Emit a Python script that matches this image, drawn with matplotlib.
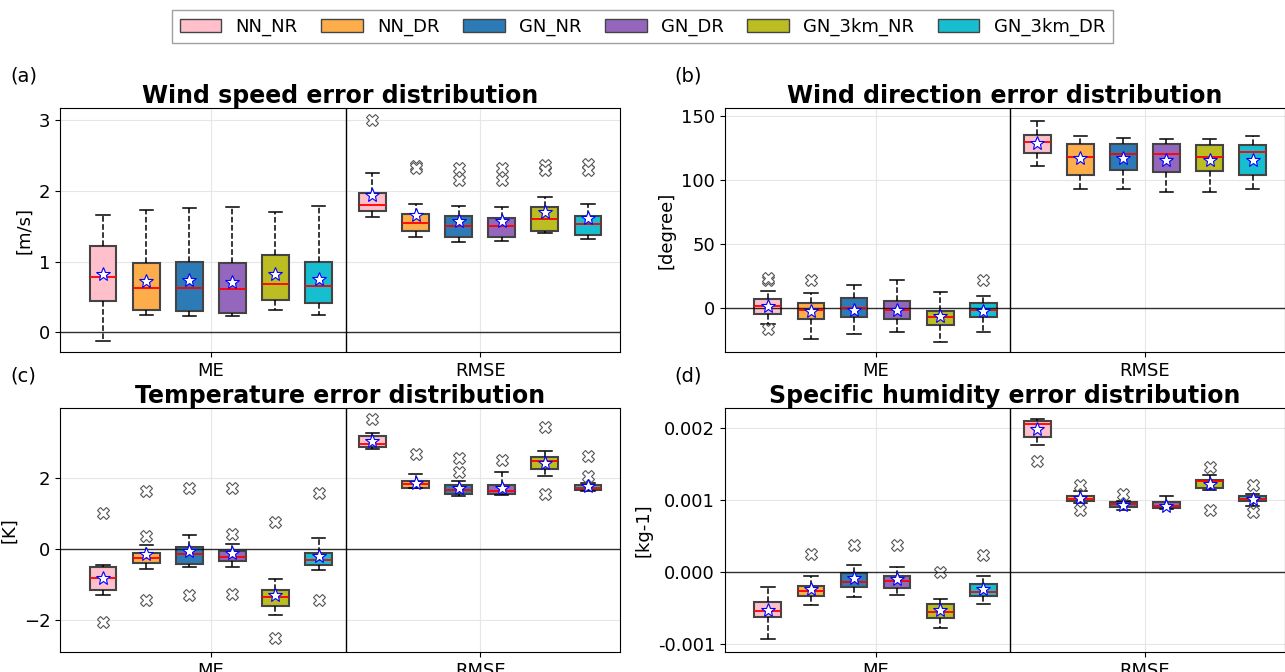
import matplotlib
matplotlib.use("Agg")
import matplotlib.pyplot as plt
from matplotlib.patches import Patch

labels = ["NN_NR", "NN_DR", "GN_NR", "GN_DR", "GN_3km_NR", "GN_3km_DR"]
colors = ["#ffc0cb", "#fdae4b", "#2c7bb6", "#9467bd", "#bcbd22", "#17becf"]

# stats per box: (whislo, q1, med, q3, whishi, mean, fliers)
ws_me = [(-0.12, 0.45, 0.78, 1.22, 1.66, 0.82, []),
         (0.24, 0.31, 0.62, 0.98, 1.73, 0.72, []),
         (0.23, 0.30, 0.62, 1.00, 1.76, 0.74, []),
         (0.23, 0.27, 0.61, 0.98, 1.77, 0.71, []),
         (0.32, 0.46, 0.69, 1.10, 1.70, 0.82, []),
         (0.24, 0.42, 0.65, 1.00, 1.78, 0.75, [])]
ws_rmse = [(1.63, 1.72, 1.80, 1.97, 2.26, 1.94, [3.0]),
           (1.35, 1.43, 1.55, 1.67, 1.82, 1.66, [2.35, 2.33]),
           (1.28, 1.35, 1.50, 1.64, 1.78, 1.58, [2.33, 2.16]),
           (1.29, 1.35, 1.50, 1.61, 1.77, 1.58, [2.33, 2.16]),
           (1.41, 1.44, 1.60, 1.77, 1.91, 1.70, [2.36, 2.30]),
           (1.32, 1.37, 1.53, 1.65, 1.81, 1.62, [2.38, 2.30])]
wd_me = [(-12, -4, 2, 7, 14, 2, [22, 24, -16]),
         (-24, -8, -1, 4, 12, -2, [22]),
         (-20, -7, 0, 8, 18, -1, []),
         (-18, -8, -1, 6, 22, -1, []),
         (-26, -13, -7, -2, 13, -6, []),
         (-18, -7, -1, 4, 10, -2, [22])]
wd_rmse = [(111, 121, 130, 135, 146, 129, []),
           (93, 104, 118, 128, 134, 117, []),
           (93, 108, 120, 128, 133, 117, []),
           (91, 106, 120, 128, 132, 116, []),
           (91, 107, 118, 127, 132, 116, []),
           (93, 104, 122, 127, 134, 116, [])]
t_me = [(-1.30, -1.15, -0.80, -0.50, -0.45, -0.80, [1.0, -2.05]),
        (-0.55, -0.38, -0.25, -0.10, 0.10, -0.15, [1.62, 0.35, -1.42]),
        (-0.50, -0.42, -0.15, 0.05, 0.40, -0.05, [1.72, -1.28]),
        (-0.50, -0.35, -0.22, -0.05, 0.15, -0.10, [1.72, 0.42, -1.25]),
        (-1.85, -1.60, -1.35, -1.15, -0.85, -1.30, [0.75, -2.50]),
        (-0.60, -0.45, -0.30, -0.10, 0.30, -0.20, [1.58, -1.42])]
t_rmse = [(2.80, 2.85, 2.95, 3.15, 3.25, 3.02, [3.65]),
          (1.70, 1.72, 1.82, 1.90, 2.10, 1.85, [2.65]),
          (1.48, 1.55, 1.65, 1.78, 1.90, 1.72, [2.55, 2.15]),
          (1.50, 1.55, 1.62, 1.78, 2.15, 1.72, [2.50]),
          (2.05, 2.25, 2.45, 2.58, 2.75, 2.40, [3.42, 1.55]),
          (1.62, 1.65, 1.72, 1.80, 1.85, 1.76, [2.60, 2.05])]
q_me = [(-0.00093, -0.00063, -0.00054, -0.00042, -0.00021, -0.00053, []),
        (-0.00046, -0.00034, -0.00026, -0.00020, -0.00006, -0.00023, [0.00025]),
        (-0.00035, -0.00021, -0.00014, -0.00002, 0.00010, -0.00008, [0.00038]),
        (-0.00032, -0.00022, -0.00012, -0.00006, 0.00007, -0.00010, [0.00038]),
        (-0.00078, -0.00064, -0.00056, -0.00044, -0.00038, -0.00053, [0.0]),
        (-0.00045, -0.00034, -0.00028, -0.00017, -0.00006, -0.00023, [0.00024])]
q_rmse = [(0.00176, 0.00188, 0.00206, 0.00210, 0.00213, 0.00198, [0.00154]),
          (0.00096, 0.00099, 0.00102, 0.00106, 0.00113, 0.00103, [0.00121, 0.00086]),
          (0.00086, 0.00090, 0.00094, 0.00097, 0.00099, 0.00093, [0.00108]),
          (0.00088, 0.00089, 0.00092, 0.00097, 0.00105, 0.00092, []),
          (0.00114, 0.00117, 0.00126, 0.00128, 0.00135, 0.00122, [0.00146, 0.00086]),
          (0.00091, 0.00099, 0.00102, 0.00105, 0.00109, 0.00102, [0.00121, 0.00083])]

panels = [
    ("(a)", "Wind speed error distribution", "[m/s]", ws_me, ws_rmse, (-0.28, 3.17), [0, 1, 2, 3]),
    ("(b)", "Wind direction error distribution", "[degree]", wd_me, wd_rmse, (-34, 156), [0, 50, 100, 150]),
    ("(c)", "Temperature error distribution", "[K]", t_me, t_rmse, (-2.88, 3.95), [-2, 0, 2]),
    ("(d)", "Specific humidity error distribution", "[kg-1]", q_me, q_rmse, (-0.00111, 0.00228), [-0.001, 0.0, 0.001, 0.002]),
]
rects = [(0.0467, 0.476), (0.564, 0.476), (0.0467, 0.030), (0.564, 0.030)]

pos_me = [1, 2, 3, 4, 5, 6]
pos_rmse = [7.25, 8.25, 9.25, 10.25, 11.25, 12.25]

fig = plt.figure(figsize=(12.85, 6.72), dpi=100)

for (tag, title, ylab, me, rmse, ylim, yticks), (l, b) in zip(panels, rects):
    ax = fig.add_axes([l, b, 0.436, 0.363])
    stats = []
    for s in me + rmse:
        stats.append(dict(whislo=s[0], q1=s[1], med=s[2], q3=s[3], whishi=s[4],
                          mean=s[5], fliers=s[6]))
    bp = ax.bxp(stats, positions=pos_me + pos_rmse, widths=0.62, patch_artist=True,
                showmeans=True,
                medianprops=dict(color="red", lw=1.3),
                whiskerprops=dict(ls="--", lw=1.1),
                capprops=dict(lw=1.1),
                meanprops=dict(marker="*", markerfacecolor="white",
                               markeredgecolor="blue", markersize=10, markeredgewidth=0.8),
                flierprops=dict(marker="X", markerfacecolor="white",
                                markeredgecolor="#555555", markersize=9, markeredgewidth=0.8))
    for i, patch in enumerate(bp["boxes"]):
        patch.set_facecolor(colors[i % 6])
        patch.set_edgecolor("#444444")
        patch.set_linewidth(1.5)
    ax.axhline(0, color="black", lw=1.0, alpha=0.8)
    ax.axvline(6.625, color="black", lw=1.0)
    ax.set_xlim(0, 13)
    ax.set_ylim(*ylim)
    ax.set_xticks([3.5, 9.75])
    ax.set_xticklabels(["ME", "RMSE"], fontsize=13)
    ax.set_yticks(yticks)
    if tag == "(d)":
        ax.set_yticklabels(["-0.001", "0.000", "0.001", "0.002"])
    ax.tick_params(axis="y", labelsize=13)
    ax.grid(True, color="#e6e6e6", lw=0.8)
    ax.set_axisbelow(True)
    ax.set_ylabel(ylab, fontsize=13)
    ax.set_title(title, fontsize=17, fontweight="bold", pad=1)
    fig.text(l - 0.039, b + 0.363 + 0.04, tag, fontsize=14)

handles = [Patch(facecolor=c, edgecolor="#444444", label=n) for c, n in zip(colors, labels)]
fig.legend(handles=handles, loc="upper center", ncol=6, fontsize=13,
           bbox_to_anchor=(0.5, 0.998), handlelength=2.3, columnspacing=1.3,
           edgecolor="#888888", fancybox=False)

fig.savefig("out.png", dpi=100)
